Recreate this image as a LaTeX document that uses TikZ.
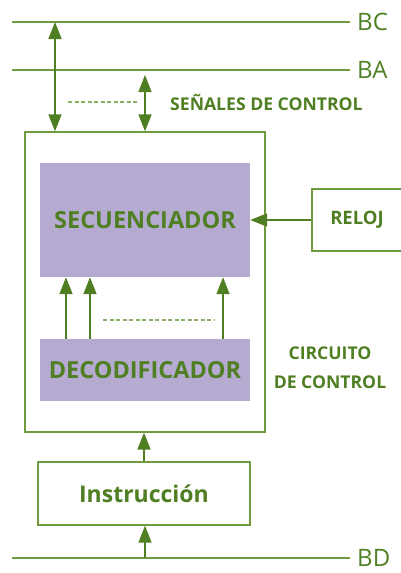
\documentclass[tikz,border=0pt]{standalone}
\usepackage{fontspec}
\setmainfont{Open Sans}
\usetikzlibrary{arrows.meta}
\definecolor{gtext}{HTML}{4F7F22}
\definecolor{gline}{HTML}{6E9C3E}
\definecolor{garrow}{HTML}{4F7F22}
\definecolor{purp}{HTML}{B5ABD1}
\begin{document}
\begin{tikzpicture}[x=1pt,y=-1pt,
  frame/.style={draw=gline, line width=1.4pt, inner sep=0pt},
  filled/.style={fill=purp, draw=none, inner sep=0pt},
  bus/.style={draw=gline, line width=1.6pt},
  buslabel/.style={anchor=west, text=gtext, font=\fontsize{24}{26}\selectfont, inner sep=0pt},
  lbl/.style={text=gtext, font=\bfseries\fontsize{17.6}{29}\selectfont, inner sep=0pt},
  arr/.style={draw=garrow, line width=1.6pt, -{Triangle[length=17pt,width=13pt]}},
  darr/.style={draw=garrow, line width=1.6pt, {Triangle[length=17pt,width=13pt]}-{Triangle[length=17pt,width=13pt]}},
  dots/.style={draw=gline!80, line width=1.4pt, dash pattern=on 4pt off 2.5pt}]
\useasboundingbox (0,0) rectangle (400,573);

% buses
\coordinate (bcL) at (12,22);  \coordinate (bcR) at (350,22);
\coordinate (baL) at (12,70);  \coordinate (baR) at (350,70);
\coordinate (bdL) at (12,558); \coordinate (bdR) at (350,558);
\draw[bus] (bcL) -- (bcR);
\draw[bus] (baL) -- (baR);
\draw[bus] (bdL) -- (bdR);
\node[buslabel] (bc) at ([xshift=7pt]bcR) {BC};
\node[buslabel] (ba) at ([xshift=7pt]baR) {BA};
\node[buslabel] (bd) at ([xshift=7pt]bdR) {BD};

% boxes
\node[frame, minimum width=240pt, minimum height=300pt] (outer) at (145,282) {};
\node[filled, minimum width=210pt, minimum height=114pt] (sec) at (145,220)
  {\color{gtext}\bfseries\fontsize{23.5}{26}\selectfont SECUENCIADOR};
\node[filled, minimum width=210pt, minimum height=62pt] (dec) at (145,370)
  {\color{gtext}\bfseries\fontsize{23.5}{26}\selectfont DECODIFICADOR};
\node[frame, minimum width=90pt, minimum height=62pt] (reloj) at (357,220)
  {\color{gtext}\bfseries\fontsize{18.5}{20}\selectfont RELOJ};
\node[frame, minimum width=212pt, minimum height=63pt] (instr) at (144,493.5)
  {\color{gtext}\bfseries\fontsize{23}{26}\selectfont Instrucción};

% labels
\node[lbl, anchor=west] (sen) at (170,102) {SEÑALES DE CONTROL};
\node[lbl, align=center] (circ) at (330,368) {CIRCUITO\\DE CONTROL};

% bus arrows
\coordinate (lA) at (55,22);
\draw[darr] (lA) -- (lA |- outer.north);
\coordinate (rA) at (145,75);
\draw[darr] (rA) -- (rA |- outer.north);
\coordinate (d1) at (68,102); \coordinate (d2) at (137,102);
\draw[dots] (d1) -- (d2);

% clock arrow
\draw[arr] (reloj.west) -- (sec.east);

% decoder to sequencer
\coordinate (a1) at (66,0);
\coordinate (a2) at (90,0);
\coordinate (a3) at (223,0);
\draw[arr] (a1 |- dec.north) -- (a1 |- sec.south);
\draw[arr] (a2 |- dec.north) -- (a2 |- sec.south);
\draw[arr] (a3 |- dec.north) -- (a3 |- sec.south);
\coordinate (e1) at (103,320); \coordinate (e2) at (215,320);
\draw[dots] (e1) -- (e2);

% instruction arrows
\draw[arr] (instr.north) -- (instr.north |- outer.south);
\coordinate (bdA) at (145,558);
\draw[arr] (bdA) -- (bdA |- instr.south);
\end{tikzpicture}
\end{document}
